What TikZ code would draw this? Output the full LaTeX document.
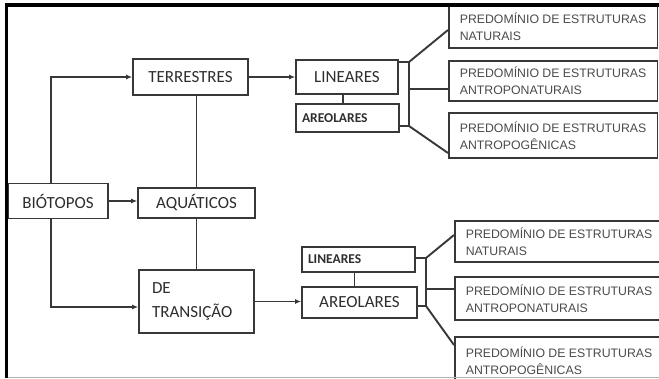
\documentclass[tikz,border=0pt]{standalone}
\usepackage{fontspec}
\setmainfont{Carlito}
\newfontfamily\arialfont{Liberation Sans}
\usetikzlibrary{arrows.meta,positioning}
\definecolor{linegray}{HTML}{383838}
\definecolor{textgray}{HTML}{2E2E2E}
\definecolor{leafgray}{HTML}{4A4A4A}

\begin{document}
\begin{tikzpicture}[
        x=1pt, y=-1pt,
        mybox/.style={
            draw=linegray,
            line width=1.6pt,
            fill=white,
            text=textgray,
            inner sep=0pt,
            font=\fontsize{17}{24}\selectfont},
        mysmallbox/.style={
            mybox,
            line width=2.4pt,
            align=left,
            font=\bfseries\fontsize{13.5}{15}\selectfont},
        myleaf/.style={
            draw=linegray,
            line width=1.6pt,
            text=leafgray,
            anchor=north west,
            inner xsep=11pt,
            minimum width=208pt,
            align=left,
            font=\arialfont\fontsize{12.3}{17}\selectfont},
        myarrow/.style={-{Latex[length=6pt,width=5pt]}},
        myline/.style={draw=linegray, line width=1.7pt},
        mybracket/.style={draw=linegray, line width=1.9pt}
        ]
        \useasboundingbox (0,0) rectangle (659,378);
        \clip (0,0) rectangle (659,378);

        % left column
        \node[mybox, minimum width=100pt, minimum height=35pt] (bio) at (58,201) {BIÓTOPOS};
        \node[mybox, minimum width=115pt, minimum height=36pt] (ter) at (190.5,77) {TERRESTRES};
        \node[mybox, minimum width=117pt, minimum height=30pt] (aqu) at (196.5,203) {AQUÁTICOS};
        \node[mybox, minimum width=115pt, minimum height=63pt, align=left, text width=89pt] (tra) at (196.5,301.5) {DE\\TRANSIÇÃO};

        % middle column
        \node[mybox, minimum width=102pt, minimum height=34pt] (lin1) at (347,77) {LINEARES};
        \node[mysmallbox, minimum width=103pt, minimum height=28pt, text width=91pt] (are1) at (347.5,118) {AREOLARES};
        \node[mysmallbox, minimum width=113pt, minimum height=25pt, text width=101pt] (lin2) at (358.5,259.5) {LINEARES};
        \node[mybox, minimum width=115pt, minimum height=31pt] (are2) at (359.5,302.5) {AREOLARES};

        % right column
        \foreach \name/\x/\y/\h/\txt in {% name/left/top/height/second line
            ln1/448/5/42/NATURAIS,
            ln2/448/60/40/ANTROPONATURAIS,
            ln3/448/112/45/ANTROPOGÊNICAS,
            lt1/454/220/41/NATURAIS,
            lt2/454/276/43/ANTROPONATURAIS,
            lt3/454/336/48/ANTROPOGÊNICAS}
            \node[myleaf, minimum height=\h pt] (\name) at (\x,\y) {PREDOMÍNIO DE ESTRUTURAS\\\txt};

        \draw[myline, myarrow] ([xshift=-7pt]bio.north) |- (ter.west);
        \draw[myline, myarrow] (bio.east) -- (bio.east -| aqu.west);
        \draw[myline, myarrow] ([xshift=-7pt]bio.south) |- ([yshift=-5.5pt]tra.west);
        \draw[myline] (aqu.north) -- (aqu.north |- ter.south);
        \draw[myline] (aqu.south) -- (tra.north);
        \draw[myline, myarrow] (ter.east) -- (lin1.west);
        \draw[myline, myarrow] (tra.east) -- (tra.east -| are2.west);
        \draw[myline] ([xshift=-4pt]lin1.south) -- ([xshift=-4pt]lin1.south |- are1.north);
        \draw[myline] ([xshift=-4pt]lin2.south) -- ([xshift=-4pt]lin2.south |- are2.north);

        % brackets
        \coordinate (ba) at (409,62);
        \coordinate (bb) at (409,126);
        \coordinate (bc) at (409,89);
        \draw[mybracket] (lin1.east |- ba) -- (ba) -- (bb) -- (are1.east |- bb);
        \draw[mybracket] (ba) -- (ln1.west |- 0,30);
        \draw[mybracket] (bc) -- (bc -| ln2.west);
        \draw[mybracket] (bb) -- (ln3.west |- 0,153);

        \coordinate (ca) at (426,258);
        \coordinate (cb) at (426,306);
        \coordinate (cc) at (426,289);
        \draw[mybracket] (lin2.east |- ca) -- (ca) -- (cb) -- (are2.east |- cb);
        \draw[mybracket] (ca) -- (lt1.west |- 0,235);
        \draw[mybracket] (cc) -- (cc -| lt2.west);
        \draw[mybracket] (cb) -- (lt3.west |- 0,345);

        % frame
        \draw[line width=4pt] (5,5) -- (659,5);
        \draw[line width=3.5pt] (6.5,3) -- (6.5,378);
        \draw[gray!60, line width=1pt] (8,377) -- (659,377);
\end{tikzpicture}
\end{document}
